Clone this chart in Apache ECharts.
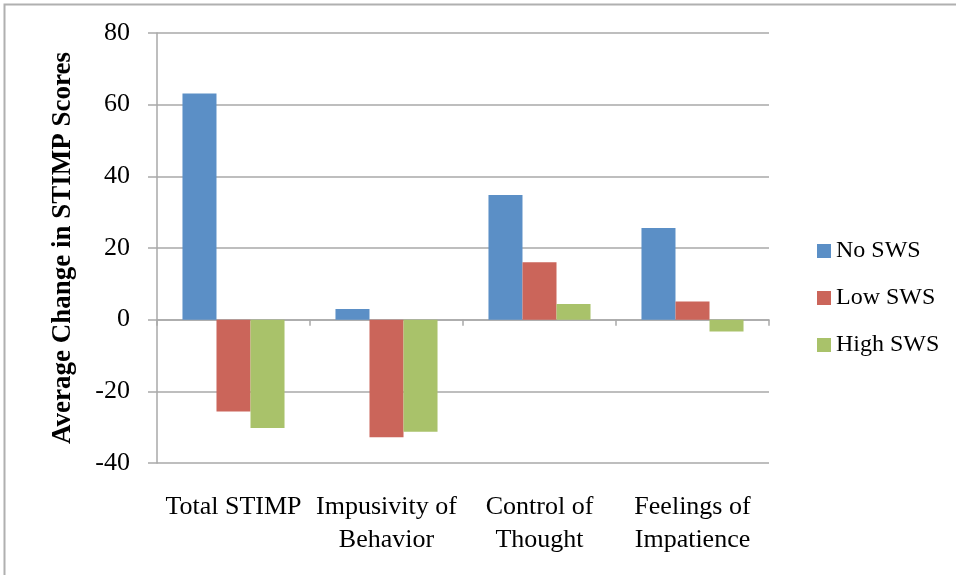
<!DOCTYPE html>
<html>
<head>
<meta charset="utf-8">
<script src="https://cdn.jsdelivr.net/npm/echarts@6/dist/echarts.min.js"></script>
<style>html,body{margin:0;padding:0;background:#fff}#c{width:956px;height:575px}</style>
</head>
<body>
<div id="c"></div>
<script>
const categories = ["Total STIMP", "Impusivity of\nBehavior", "Control of\nThought", "Feelings of\nImpatience"];
const noSWS = [63.1, 3.0, 34.8, 25.6];
const lowSWS = [-25.6, -32.8, 16.0, 5.1];
const highSWS = [-30.2, -31.3, 4.4, -3.3];
const yTicks = { min: -40, max: 80, interval: 20 };

const font = "Liberation Serif";
const gridColor = "#a9a9a9";
const chart = echarts.init(document.getElementById('c'), null, { renderer: 'canvas' });
chart.setOption({
  animation: false,
  backgroundColor: '#fff',
  graphic: [{
    type: 'rect', shape: { x: 4.5, y: 4.5, width: 1200, height: 1200 },
    style: { fill: 'none', stroke: '#b0b0b0', lineWidth: 2 }, silent: true
  }],
  grid: { left: 157, right: 187, top: 33, bottom: 112, containLabel: false },
  legend: {
    orient: 'vertical', left: 812, top: 234,
    itemWidth: 14, itemHeight: 14, itemGap: 23,
    icon: 'rect',
    textStyle: { fontFamily: font, fontSize: 24, color: '#000' },
    data: ['No SWS', 'Low SWS', 'High SWS']
  },
  xAxis: [{
    type: 'category', data: categories, position: 'bottom',
    axisLine: { onZero: true, lineStyle: { color: gridColor, width: 1.5 } },
    axisTick: { show: true, length: 6, lineStyle: { color: gridColor, width: 1.5 } },
    axisLabel: { show: false }
  }, {
    type: 'category', data: categories, position: 'bottom',
    axisLine: { show: false, onZero: false }, axisTick: { show: false },
    axisLabel: { show: true, margin: 28, fontFamily: font, fontSize: 26, color: '#000', lineHeight: 33, interval: 0 }
  }],
  yAxis: {
    type: 'value', min: yTicks.min, max: yTicks.max, interval: yTicks.interval,
    name: 'Average Change in STIMP Scores', nameLocation: 'middle', nameGap: 80,
    nameRotate: 90,
    nameTextStyle: { fontFamily: font, fontSize: 27, fontWeight: 'bold', color: '#000' },
    axisLine: { show: true, lineStyle: { color: gridColor, width: 1.5 } },
    axisTick: { show: true, length: 9, lineStyle: { color: gridColor, width: 1.5 } },
    axisLabel: { margin: 27, fontFamily: font, fontSize: 26, color: '#000' },
    splitLine: { show: true, lineStyle: { color: gridColor, width: 1.5 } }
  },
  series: [
    { name: 'No SWS', type: 'bar', data: noSWS, barGap: '0%', barCategoryGap: '33.3%', itemStyle: { color: '#5B8FC6' } },
    { name: 'Low SWS', type: 'bar', data: lowSWS, barGap: '0%', barCategoryGap: '33.3%', itemStyle: { color: '#CB655A' } },
    { name: 'High SWS', type: 'bar', data: highSWS, barGap: '0%', barCategoryGap: '33.3%', itemStyle: { color: '#A9C26A' } }
  ]
});
</script>
</body>
</html>
